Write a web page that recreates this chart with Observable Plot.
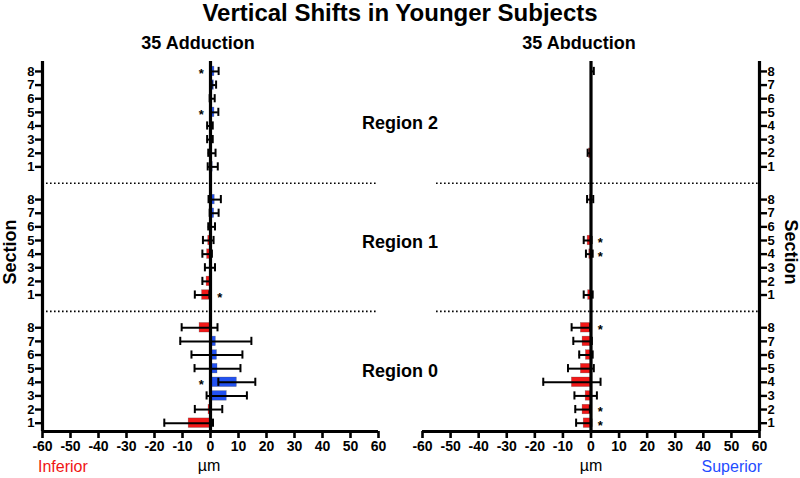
<!DOCTYPE html>
<html><head><meta charset="utf-8">
<script src="https://cdn.jsdelivr.net/npm/d3@7"></script>
<script src="https://cdn.jsdelivr.net/npm/@observablehq/plot@0.6"></script>
<style>
body{margin:0;background:#fff;}
#wrap{position:relative;width:800px;height:478px;font-family:"Liberation Sans",Arial,sans-serif;color:#000;overflow:hidden}
.t{position:absolute;white-space:nowrap;line-height:1.2}
.p{position:absolute;top:0}
</style></head><body><div id="wrap"></div>
<script>
// ---------- data ----------
const sections = [1, 2, 3, 4, 5, 6, 7, 8];
const regions = [0, 1, 2];
const regionNames = ["Region 0", "Region 1", "Region 2"];
const xTicks = [-60, -50, -40, -30, -20, -10, 0, 10, 20, 30, 40, 50, 60];
const panelTitles = ["35 Adduction", "35 Abduction"];
const chartTitle = "Vertical Shifts in Younger Subjects";
const yTitle = "Section";
const xUnit = "µm";
const directionLabels = ["Inferior", "Superior"];

// 35 Adduction (mean, SD) per section 1..8
const addR0Mean = [-7.8, -0.7, 5.8, 9.4, 2.5, 2.3, 1.9, -3.9];
const addR0SD   = [8.7, 4.9, 7.2, 6.6, 8.2, 9.1, 12.7, 6.4];
const addR1Mean = [-3.0, -1.4, -0.2, -1.2, -0.8, 0.4, 1.3, 1.5];
const addR1SD   = [2.6, 1.5, 1.8, 1.7, 1.9, 1.2, 1.6, 2.2];
const addR2Mean = [0.8, 0.5, -0.2, -0.2, 1.4, 0.6, 1.2, 1.4];
const addR2SD   = [1.8, 1.3, 1.0, 1.0, 1.4, 0.9, 0.8, 1.5];
// significance markers [region, section]
const addStars = [[0, 4], [1, 1], [2, 5], [2, 8]];

// 35 Abduction (mean, SD) per section 1..8 (null = no data)
const abdR0Mean = [-2.6, -3.0, -1.9, -6.8, -3.6, -1.8, -3.0, -3.6];
const abdR0SD   = [2.7, 2.6, 4.0, 10.2, 4.6, 2.4, 3.3, 3.3];
const abdR1Mean = [-1.0, null, null, -0.6, -1.2, null, null, -0.3];
const abdR1SD   = [1.6, null, null, 1.2, 1.4, null, null, 1.1];
const abdR2Mean = [null, -0.7, null, null, null, null, null, 0.5];
const abdR2SD   = [null, 0.5, null, null, null, null, null, 0.5];
const abdStars = [[0, 1], [0, 2], [0, 8], [1, 4], [1, 5]];

// ---------- layout constants ----------
const FONT = '"Liberation Sans", Arial, sans-serif';
const RED = "#f21818";
const BLUE = "#2352f0";
const STEP = 9.4;          // rows per region block
const BAR_HALF = 0.35;
const CAP = 0.3;
const STAR_OFF = 3.3;
const yDomain = [0.39, 27.53];

function pos(region, section) { return region * STEP + section; }

function buildRows(means, sds) {
  const rows = [];
  regions.forEach((r, ri) => {
    sections.forEach((s, si) => {
      const m = means[ri][si];
      if (m == null) return;
      rows.push({region: r, section: s, mean: m, sd: sds[ri][si], pos: pos(r, s)});
    });
  });
  return rows;
}
function buildStars(rows, stars) {
  return stars.map(([r, s]) => rows.find(d => d.region === r && d.section === s)).filter(Boolean);
}

const addRows = buildRows([addR0Mean, addR1Mean, addR2Mean], [addR0SD, addR1SD, addR2SD]);
const abdRows = buildRows([abdR0Mean, abdR1Mean, abdR2Mean], [abdR0SD, abdR1SD, abdR2SD]);
const yTickPos = regions.flatMap(r => sections.map(s => pos(r, s)));
const tickLabel = new Map(regions.flatMap(r => sections.map(s => [pos(r, s), String(s)])));
const dividers = regions.slice(0, -1).map(r => r * STEP + (9 + STEP) / 2);

function panel(rows, starRows, side) {
  const left = side === "left";
  return Plot.plot({
    width: 400, height: 478,
    marginTop: 61, marginBottom: 47,
    marginLeft: left ? 42 : 22, marginRight: left ? 22 : 41,
    x: {domain: [-60, 60]},
    y: {domain: yDomain},
    color: {type: "identity"},
    style: {fontFamily: FONT, color: "#000", background: "transparent", overflow: "visible"},
    marks: [
      Plot.ruleY(dividers, {x1: left ? -60 : -55, x2: 60, strokeWidth: 1.6, strokeDasharray: "1.6,2.4"}),
      Plot.rect(rows, {x1: 0, x2: "mean", y1: d => d.pos - BAR_HALF, y2: d => d.pos + BAR_HALF,
        fill: d => d.mean < 0 ? RED : BLUE, stroke: "#444", strokeWidth: 0.5, strokeOpacity: 0.5}),
      Plot.ruleY(rows, {y: "pos", x1: d => d.mean - d.sd, x2: d => d.mean + d.sd, strokeWidth: 2}),
      Plot.ruleX(rows, {x: d => d.mean - d.sd, y1: d => d.pos - CAP, y2: d => d.pos + CAP, strokeWidth: 2}),
      Plot.ruleX(rows, {x: d => d.mean + d.sd, y1: d => d.pos - CAP, y2: d => d.pos + CAP, strokeWidth: 2}),
      Plot.ruleX([0], {strokeWidth: 3.2}),
      Plot.ruleX([left ? -60 : 60], {strokeWidth: 3.2}),
      Plot.ruleY([yDomain[0]], {strokeWidth: 3.2}),
      Plot.axisX({ticks: xTicks, tickFormat: d => String(d), tickSize: 7, tickPadding: 3,
        fontSize: 14, fontWeight: "bold", strokeWidth: 2.6, label: null}),
      Plot.axisY({anchor: side, ticks: yTickPos, tickFormat: d => tickLabel.get(d), tickSize: 7,
        tickPadding: 1, fontSize: 13, fontWeight: "bold", strokeWidth: 2.4, label: null}),
      Plot.text(starRows, {x: d => d.mean < 0 ? STAR_OFF : -STAR_OFF, y: "pos", text: () => "*",
        fontSize: 13, fontWeight: "bold", dy: 2.5})
    ]
  });
}

const wrap = document.getElementById("wrap");
const p1 = panel(addRows, buildStars(addRows, addStars), "left");
p1.classList.add("p"); p1.style.left = "0px";
const p2 = panel(abdRows, buildStars(abdRows, abdStars), "right");
p2.classList.add("p"); p2.style.left = "400px";
wrap.appendChild(p1); wrap.appendChild(p2);

function addText(text, {x, baseline, anchor = "middle", size, weight = "bold", color = "#000", rotate = 0}) {
  const el = document.createElement("div");
  el.className = "t";
  el.textContent = text;
  el.style.fontSize = size + "px";
  el.style.fontWeight = weight;
  el.style.color = color;
  if (rotate) {
    el.style.left = x + "px";
    el.style.top = baseline + "px";
    el.style.transform = `translate(-50%,-50%) rotate(${rotate}deg)`;
  } else {
    // line-height 1.2: baseline sits at top + (0.1 + 0.905 - 0.0585)em
    el.style.top = (baseline - 0.9465 * size) + "px";
    el.style.left = x + "px";
    const tx = anchor === "middle" ? "-50%" : anchor === "end" ? "-100%" : "0";
    el.style.transform = `translateX(${tx})`;
  }
  wrap.appendChild(el);
}

addText(chartTitle, {x: 400, baseline: 22, size: 24});
addText(panelTitles[0], {x: 198, baseline: 50, size: 18});
addText(panelTitles[1], {x: 579, baseline: 50, size: 18});
const regionBaselines = [378, 249.5, 130];
regions.forEach(r => addText(regionNames[r], {x: 400, baseline: regionBaselines[r], size: 18}));
addText(yTitle, {x: 11, baseline: 252, size: 18, rotate: -90});
addText(yTitle, {x: 790, baseline: 252, size: 18, rotate: 90});
addText(xUnit, {x: 209, baseline: 471, size: 16, weight: "normal"});
addText(xUnit, {x: 591, baseline: 471, size: 16, weight: "normal"});
addText(directionLabels[0], {x: 38, baseline: 472, size: 16, weight: "normal", color: "#f01414", anchor: "start"});
addText(directionLabels[1], {x: 762, baseline: 472, size: 16, weight: "normal", color: "#1f4dff", anchor: "end"});
</script></body></html>
